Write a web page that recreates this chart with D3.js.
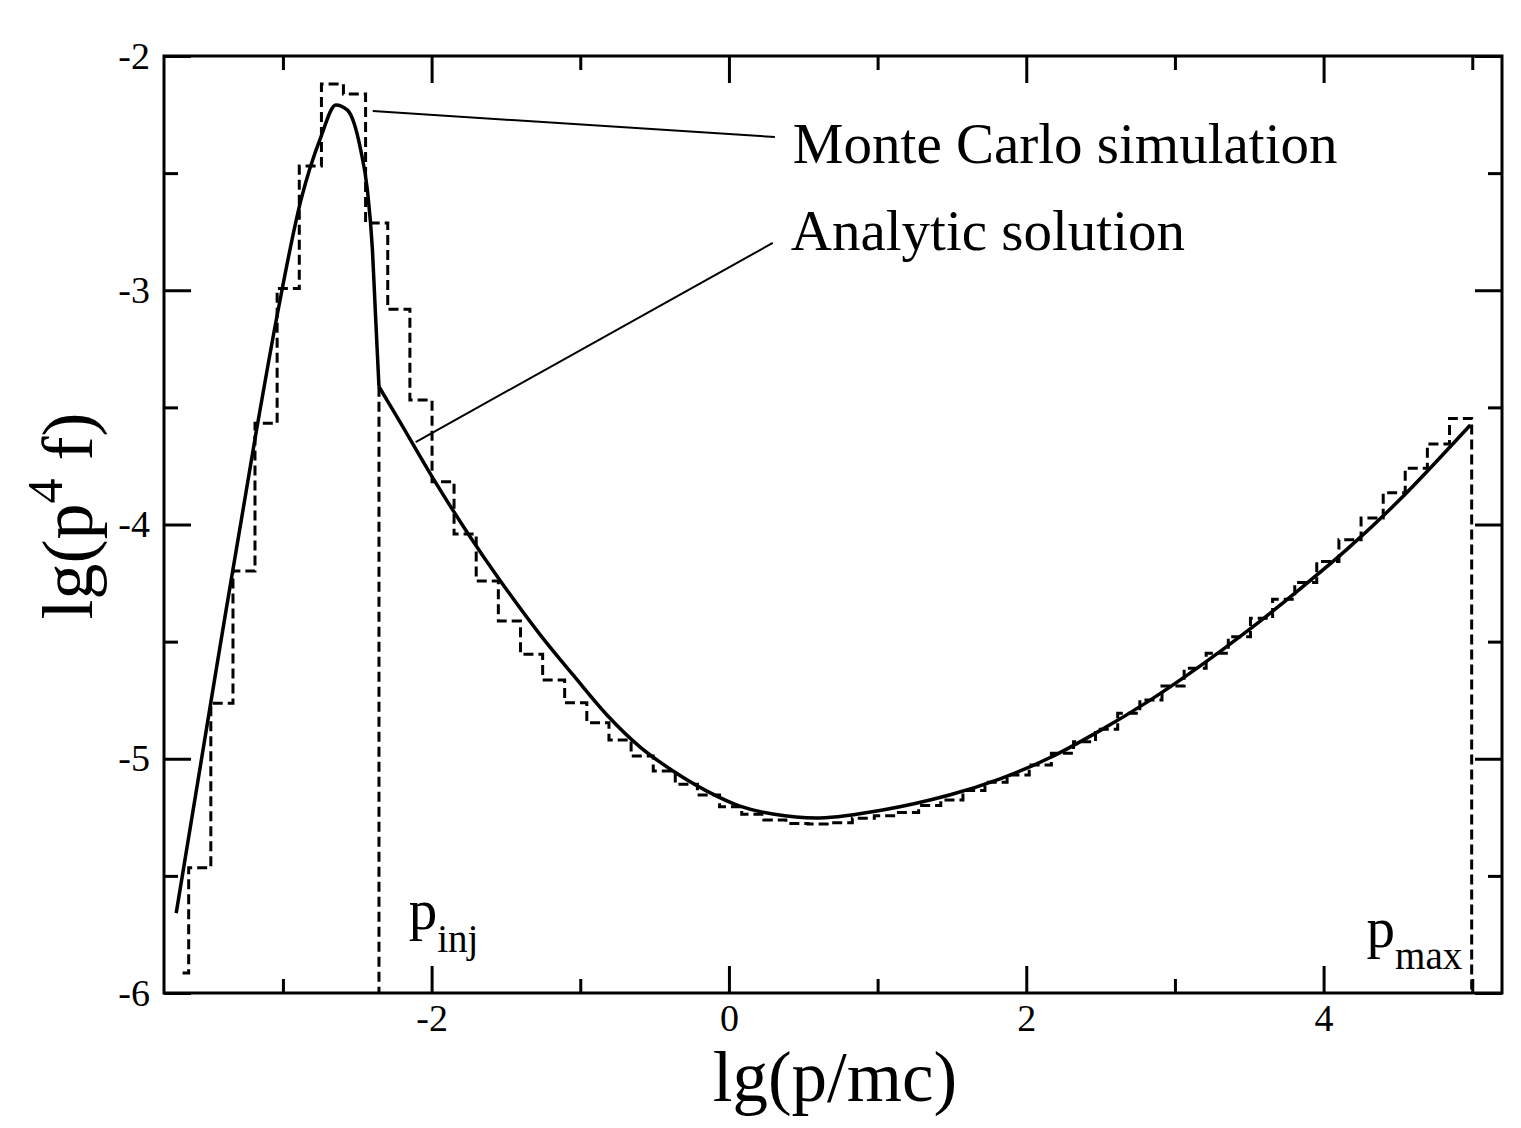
<!DOCTYPE html>
<html>
<head>
<meta charset="utf-8">
<script src="https://cdn.jsdelivr.net/npm/d3@7"></script>
<style>
  body { margin: 0; background: #fff; }
  text { font-family: "Liberation Serif", "Times New Roman", serif; fill: #000; }
</style>
</head>
<body>
<div id="chart"></div>
<script>
// Monte Carlo histogram: bin edges in lg(p/mc), bin values in lg(p^4 f)
const binEdges = [
  -3.675, -3.634, -3.485, -3.336, -3.188, -3.039, -2.890, -2.741, -2.593, -2.444,
  -2.295, -2.146, -1.997, -1.849, -1.700, -1.551, -1.402, -1.253, -1.105, -0.956,
  -0.807, -0.658, -0.509, -0.361, -0.212, -0.063, 0.086, 0.235, 0.383, 0.532,
  0.681, 0.830, 0.978, 1.127, 1.276, 1.425, 1.574, 1.722, 1.871, 2.020,
  2.169, 2.318, 2.466, 2.615, 2.764, 2.913, 3.062, 3.210, 3.359, 3.508,
  3.657, 3.806, 3.954, 4.103, 4.252, 4.401, 4.549, 4.698, 4.847, 4.996
];
const mcValues = [
  -5.915,
  -5.465, -4.763, -4.198, -3.568, -2.992, -2.470, -2.120, -2.162, -2.713, -3.081,
  -3.469, -3.817, -4.041, -4.241, -4.412, -4.554, -4.664, -4.761, -4.846, -4.920,
  -4.988, -5.052, -5.109, -5.155, -5.205, -5.237, -5.261, -5.276, -5.279, -5.273,
  -5.254, -5.243, -5.229, -5.200, -5.176, -5.136, -5.100, -5.069, -5.027, -4.977,
  -4.927, -4.874, -4.806, -4.749, -4.689, -4.614, -4.550, -4.479, -4.400, -4.319,
  -4.248, -4.158, -4.065, -3.972, -3.864, -3.760, -3.656, -3.547
];

// Analytic solution, thermal part (below p_inj) and power-law part (above p_inj)
const analyticLow = [
  [-3.718, -5.659], [-3.438, -4.578], [-3.181, -3.609], [-3.036, -3.097],
  [-2.879, -2.615], [-2.745, -2.346], [-2.644, -2.209], [-2.566, -2.231],
  [-2.522, -2.286], [-2.477, -2.401], [-2.432, -2.572], [-2.398, -2.828],
  [-2.379, -3.084], [-2.366, -3.255], [-2.354, -3.412]
];
const analyticHigh = [
  [-2.354, -3.412], [-2.208, -3.567], [-1.987, -3.806], [-1.758, -4.036],
  [-1.537, -4.241], [-1.268, -4.472], [-1.047, -4.643], [-0.819, -4.814],
  [-0.597, -4.950], [-0.376, -5.052], [-0.148, -5.138], [0.074, -5.202],
  [0.295, -5.236], [0.611, -5.253], [1.034, -5.219], [1.483, -5.155],
  [1.819, -5.087], [2.154, -4.997], [2.490, -4.882], [2.826, -4.753],
  [3.161, -4.608], [3.497, -4.450], [3.832, -4.280], [4.168, -4.100],
  [4.503, -3.900], [4.987, -3.575]
];

const pInj = -2.354;
const pInjValue = -3.412;

const xMajorTicks = [-2, 0, 2, 4];
const xMinorTicks = [-3, -1, 1, 3, 5];
const yMajorTicks = [-2, -3, -4, -5, -6];
const yMinorTicks = [-2.5, -3.5, -4.5, -5.5];

const width = 1521;
const height = 1128;
const margin = { top: 56, right: 19, bottom: 135, left: 164 };

const x = d3.scaleLinear()
  .domain([-3.8, 5.2])
  .range([margin.left, width - margin.right]);

const y = d3.scaleLinear()
  .domain([-6, -2])
  .range([height - margin.bottom, margin.top]);

const svg = d3.select("#chart")
  .append("svg")
  .attr("width", width)
  .attr("height", height)
  .style("background", "#fff");

// axes with inward ticks on all four sides
function addAxis(axisFn, values, size, transform, labels) {
  const g = svg.append("g")
    .attr("transform", transform)
    .call(axisFn.tickValues(values).tickSize(size).tickPadding(11)
      .tickFormat((d) => labels ? String(d) : ""));
  g.attr("font-family", "'Liberation Serif', serif").attr("font-size", 38);
  g.select(".domain").remove();
  g.selectAll(".tick line").attr("stroke", "#000").attr("stroke-width", 3);
  g.selectAll(".tick text").attr("fill", "#000");
  return g;
}

const bottomY = y(-6);
const topY = y(-2);
const leftX = x(-3.8);
const rightX = x(5.2);

addAxis(d3.axisBottom(x), xMajorTicks, -27, `translate(0,${bottomY})`, true);
addAxis(d3.axisBottom(x), xMinorTicks, -14, `translate(0,${bottomY})`, false);
addAxis(d3.axisTop(x), xMajorTicks, -27, `translate(0,${topY})`, false);
addAxis(d3.axisTop(x), xMinorTicks, -14, `translate(0,${topY})`, false);
const yAxisLeft = addAxis(d3.axisLeft(y), yMajorTicks, -27, `translate(${leftX},0)`, true);
yAxisLeft.selectAll(".tick text").attr("x", -14);
addAxis(d3.axisLeft(y), yMinorTicks, -14, `translate(${leftX},0)`, false);
addAxis(d3.axisRight(y), yMajorTicks, -27, `translate(${rightX},0)`, false);
addAxis(d3.axisRight(y), yMinorTicks, -14, `translate(${rightX},0)`, false);

// frame
svg.append("rect")
  .attr("x", leftX)
  .attr("y", topY)
  .attr("width", rightX - leftX)
  .attr("height", bottomY - topY)
  .attr("fill", "none")
  .attr("stroke", "#000")
  .attr("stroke-width", 3);

// Monte Carlo histogram as dashed stairs
const stepPoints = mcValues.map((v, i) => [binEdges[i], v]);
const lastEdge = binEdges[binEdges.length - 1];
stepPoints.push([lastEdge, mcValues[mcValues.length - 1]]);
stepPoints.push([lastEdge, -6]);

const stepLine = d3.line()
  .x((d) => x(d[0]))
  .y((d) => y(d[1]))
  .curve(d3.curveStepAfter);

svg.append("path")
  .datum(stepPoints)
  .attr("d", stepLine)
  .attr("fill", "none")
  .attr("stroke", "#000")
  .attr("stroke-width", 3)
  .attr("stroke-dasharray", "10,5");

// p_inj marker
svg.append("line")
  .attr("x1", x(pInj))
  .attr("x2", x(pInj))
  .attr("y1", y(pInjValue))
  .attr("y2", y(-6))
  .attr("stroke", "#000")
  .attr("stroke-width", 3)
  .attr("stroke-dasharray", "10,5");

// analytic curve
const lowLine = d3.line()
  .x((d) => x(d[0]))
  .y((d) => y(d[1]))
  .curve(d3.curveMonotoneX);

const highLine = d3.line()
  .x((d) => x(d[0]))
  .y((d) => y(d[1]))
  .curve(d3.curveCatmullRom.alpha(0.5));

[[analyticLow, lowLine], [analyticHigh, highLine]].forEach(([pts, gen]) => {
  svg.append("path")
    .datum(pts)
    .attr("d", gen)
    .attr("fill", "none")
    .attr("stroke", "#000")
    .attr("stroke-width", 3.5)
    .attr("stroke-linejoin", "round");
});

// annotations with leader lines
const notes = [
  { text: "Monte Carlo simulation", from: [-2.396, -2.235], to: [0.309, -2.346], at: [0.43, -2.457] },
  { text: "Analytic solution", from: [-2.107, -3.648], to: [0.295, -2.798], at: [0.416, -2.828] }
];

notes.forEach((n) => {
  svg.append("line")
    .attr("x1", x(n.from[0]))
    .attr("y1", y(n.from[1]))
    .attr("x2", x(n.to[0]))
    .attr("y2", y(n.to[1]))
    .attr("stroke", "#000")
    .attr("stroke-width", 2);
  svg.append("text")
    .attr("x", x(n.at[0]))
    .attr("y", y(n.at[1]))
    .style("font-size", "57px")
    .text(n.text);
});

// p_inj and p_max labels
const momentumLabels = [
  { sub: "inj", at: [-2.154, -5.727], shift: 23 },
  { sub: "max", at: [4.289, -5.804], shift: 22 }
];

momentumLabels.forEach((m) => {
  const t = svg.append("text")
    .attr("x", x(m.at[0]))
    .attr("y", y(m.at[1]))
    .style("font-size", "57px");
  t.append("tspan").text("p");
  t.append("tspan")
    .attr("dy", m.shift)
    .style("font-size", "39px")
    .text(m.sub);
});

// axis titles
svg.append("text")
  .attr("x", 835)
  .attr("y", 1101)
  .attr("text-anchor", "middle")
  .style("font-size", "71px")
  .text("lg(p/mc)");

const yTitle = svg.append("text")
  .attr("transform", `translate(92,516) rotate(-90)`)
  .attr("text-anchor", "middle")
  .style("font-size", "72px");
yTitle.append("tspan").text("lg(p");
yTitle.append("tspan")
  .attr("dy", -30)
  .style("font-size", "50px")
  .text("4");
yTitle.append("tspan")
  .attr("dy", 30)
  .text(" f)");
</script>
</body>
</html>
